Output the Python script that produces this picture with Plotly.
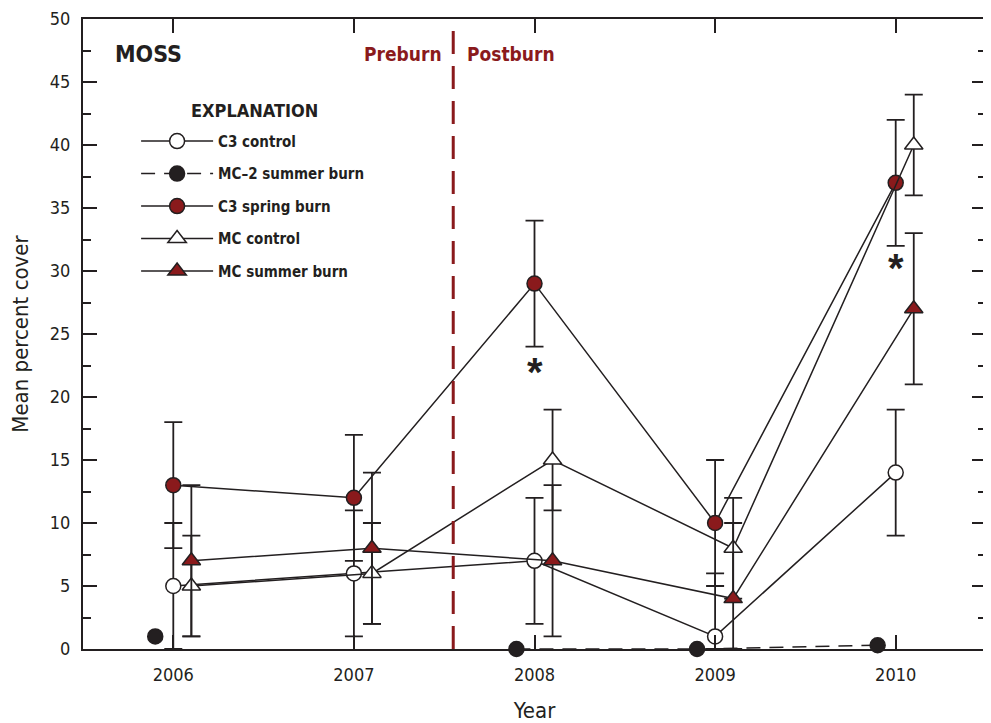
import plotly.graph_objects as go

years = [2006, 2007, 2008, 2009, 2010]

c3_control = [5, 6, 7, 1, 14]
c3_control_err = [5, 5, 5, 5, 5]

mc2_summer = [1, None, 0, 0, 0.3]

c3_spring = [13, 12, 29, 10, 37]
c3_spring_err = [5, 5, 5, 5, 5]

mc_control = [5, 6, 15, 8, 40]
mc_control_err = [4, 4, 4, 4, 4]

mc_summer = [7, 8, 7, 4, 27]
mc_summer_err = [6, 6, 6, 6, 6]

asterisk_years = [2008, 2010]
asterisk_values = [21.95, 30.2]

burn_year = 2007.55

DARK = "#231f20"
RED = "#8a1a1c"
FONT = "Liberation Sans Narrow, Arial Narrow, DejaVu Sans Condensed, sans-serif"


def shift(xs, d):
    return [x + d for x in xs]


def err_minus(vals, errs):
    return [min(e, v) for v, e in zip(vals, errs)]


fig = go.Figure()

series = [
    dict(name="C3 control", y=c3_control, err=c3_control_err, dx=0.0,
         symbol="circle", fill="white", dash="solid", size=15),
    dict(name="MC\u20132 summer burn", y=mc2_summer, err=None, dx=-0.1,
         symbol="circle", fill=DARK, dash="14px,9px", size=15),
    dict(name="C3 spring burn", y=c3_spring, err=c3_spring_err, dx=0.0,
         symbol="circle", fill=RED, dash="solid", size=15),
    dict(name="MC control", y=mc_control, err=mc_control_err, dx=0.1,
         symbol="triangle-up", fill="white", dash="solid", size=16),
    dict(name="MC summer burn", y=mc_summer, err=mc_summer_err, dx=0.1,
         symbol="triangle-up", fill=RED, dash="solid", size=16),
]

for i, s in enumerate(series):
    kw = {}
    if s["err"] is not None:
        kw["error_y"] = dict(type="data", symmetric=False, array=s["err"],
                             arrayminus=err_minus(s["y"], s["err"]),
                             color=DARK, thickness=1.8, width=9)
    fig.add_trace(go.Scatter(
        x=shift(years, s["dx"]), y=s["y"], name="<b>" + s["name"] + "</b>",
        mode="lines+markers", connectgaps=False, cliponaxis=False,
        legendgroup=f"g{i}",
        line=dict(color=DARK, width=1.5, dash=s["dash"]),
        marker=dict(symbol=s["symbol"], size=s["size"], color=s["fill"],
                    line=dict(color=DARK, width=1.5)),
        **kw))

fig.add_shape(type="line", xref="x", yref="paper", x0=burn_year, x1=burn_year,
              y0=0, y1=1, line=dict(color=RED, width=3, dash="23px,12px"))

for xa, ya in zip(asterisk_years, asterisk_values):
    fig.add_annotation(x=xa, y=ya, xref="x", yref="y", text="<b>*</b>",
                       showarrow=False,
                       font=dict(family="Liberation Sans, Arial, sans-serif", size=40, color=DARK))

fig.add_annotation(x=2005.5, y=47.2, xref="x", yref="y", text="<b>MOSS</b>",
                   xanchor="left", xshift=30, showarrow=False,
                   font=dict(family=FONT, size=23, color=DARK))
fig.add_annotation(x=burn_year, y=47.2, xref="x", yref="y", text="<b>Preburn</b>",
                   xanchor="right", xshift=-9, showarrow=False,
                   font=dict(family=FONT, size=19, color=RED))
fig.add_annotation(x=burn_year, y=47.2, xref="x", yref="y", text="<b>Postburn</b>",
                   xanchor="left", xshift=12, showarrow=False,
                   font=dict(family=FONT, size=19, color=RED))
fig.add_annotation(x=0.1894, y=0.855, xref="paper", yref="paper", text="<b>EXPLANATION</b>",
                   xanchor="center", yanchor="middle", showarrow=False,
                   font=dict(family=FONT, size=18, color=DARK))

fig.update_layout(
    width=983, height=715,
    margin=dict(l=75, r=5, t=11, b=74, autoexpand=False),
    paper_bgcolor="white", plot_bgcolor="white",
    font=dict(family=FONT, color=DARK, size=18),
    showlegend=True,
    legend=dict(x=0.0588, y=0.832, xanchor="left", yanchor="top",
                bgcolor="rgba(0,0,0,0)", itemwidth=72, tracegroupgap=10,
                font=dict(family=FONT, size=15, color=DARK),
                traceorder="grouped", itemclick=False),
    xaxis=dict(range=[2005.5, 2010.5], tickvals=years, ticktext=[str(y) for y in years],
               ticks="inside", ticklen=14, tickwidth=2, tickcolor=DARK,
               showline=True, linewidth=2, linecolor=DARK, mirror="ticks",
               showgrid=False, zeroline=False, automargin=False,
               ticklabelstandoff=8, ticklabeloverflow="allow",
               title=dict(text="Year", font=dict(size=22), standoff=22)),
    yaxis=dict(range=[0, 50], dtick=5, tick0=0,
               ticks="inside", ticklen=14, tickwidth=2, tickcolor=DARK,
               minor=dict(dtick=2.5, ticks="inside", ticklen=8, tickwidth=2, tickcolor=DARK),
               showline=True, linewidth=2, linecolor=DARK, mirror="ticks",
               showgrid=False, zeroline=False, automargin=False,
               ticklabelstandoff=7, ticklabeloverflow="allow",
               title=dict(text="Mean percent cover", font=dict(size=22), standoff=15)),
)

fig.write_html("out.html")
